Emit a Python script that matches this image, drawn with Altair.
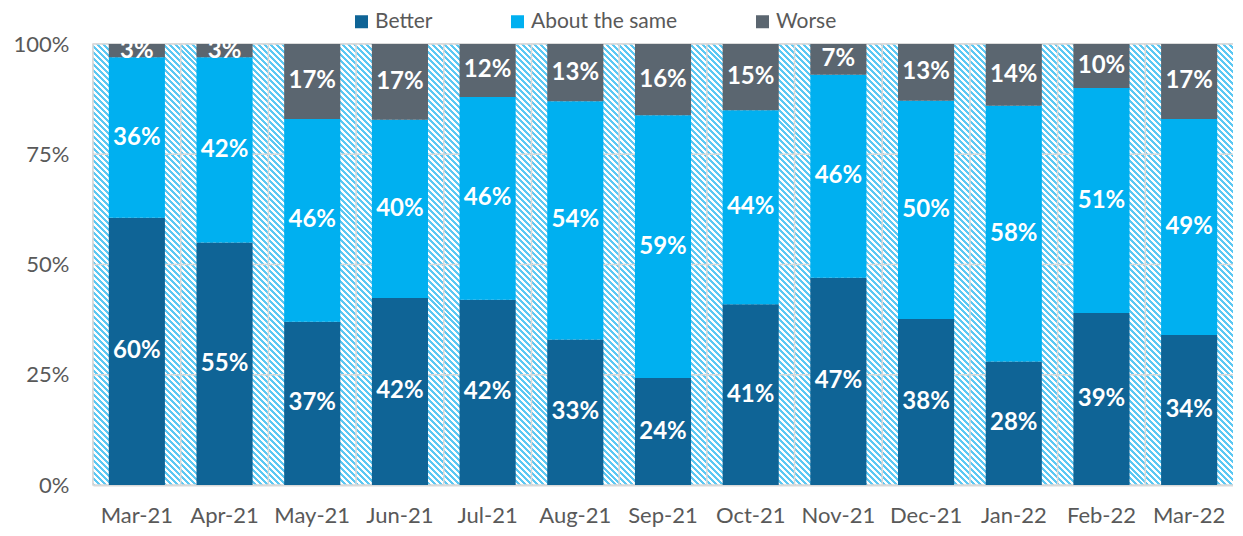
import altair as alt
import pandas as pd

months = ["Mar-21", "Apr-21", "May-21", "Jun-21", "Jul-21", "Aug-21", "Sep-21",
          "Oct-21", "Nov-21", "Dec-21", "Jan-22", "Feb-22", "Mar-22"]
series = ["Better", "About the same", "Worse"]
better = [60, 55, 37, 42, 42, 33, 24, 41, 47, 38, 28, 39, 34]
same = [36, 42, 46, 40, 46, 54, 59, 44, 46, 50, 58, 51, 49]
worse = [3, 3, 17, 17, 12, 13, 16, 15, 7, 13, 14, 10, 17]
y_ticks = [0, 0.25, 0.5, 0.75, 1.0]
colors = ["#0f6496", "#00b0f0", "#5b6670"]

rows = []
for i, m in enumerate(months):
    for k, (s, vals) in enumerate(zip(series, [better, same, worse])):
        rows.append({"month": m, "series": s, "order": k, "value": vals[i]})
df = pd.DataFrame(rows)

W, H = 1140, 441
FONT = "Lato"
GRID = "#d9d9d9"
TXT = "#595959"

# diagonal hatch background (45 deg stripes) as a linear gradient on a plot-size rect
r = H / W
kk = (1 + r) / (1 + r * r)
period = 6.0
N = int(round((W + H) / period))
stripe = "#5cc8f3"
stops = []
for i in range(N):
    a = i / N
    b = (i + 0.5) / N
    c = (i + 1) / N
    stops += [
        {"offset": a, "color": stripe},
        {"offset": b, "color": stripe},
        {"offset": b, "color": "#ffffff"},
        {"offset": c, "color": "#ffffff"},
    ]
hatch = alt.LinearGradient(gradient="linear", x1=0, y1=1, x2=kk, y2=1 - kk * r,
                           stops=[alt.GradientStop(offset=s["offset"], color=s["color"]) for s in stops])

bg = alt.Chart(pd.DataFrame({"k": [0]})).mark_rect(fill=hatch, strokeWidth=0).encode(
    x=alt.value(0), x2=alt.value(W), y=alt.value(0), y2=alt.value(H)
)

hgrid = alt.Chart(pd.DataFrame({"t": y_ticks})).mark_rule(color=GRID, strokeWidth=1.5).encode(
    y=alt.Y("t:Q")
)

vgrid = alt.Chart(pd.DataFrame({"month": months})).mark_rule(color=GRID, strokeWidth=1.5).encode(
    x=alt.X("month:N", sort=months, bandPosition=0)
)

base = alt.Chart(df).transform_stack(
    stack="value", groupby=["month"], sort=[alt.SortField("order", order="ascending")],
    as_=["y0", "y1"], offset="normalize"
).transform_calculate(
    mid="(datum.y0 + datum.y1) / 2",
    label="datum.value + '%'"
)

xenc = alt.X("month:N", sort=months, title=None,
             scale=alt.Scale(paddingInner=0, paddingOuter=0),
             axis=alt.Axis(labelAngle=0, labelAlign="center", labelFont=FONT, labelFontSize=22,
                           labelColor=TXT, labelPadding=30, ticks=False, grid=False,
                           bandPosition=0.5, domainColor=GRID, domainWidth=2))

bars = base.mark_bar(width=alt.RelativeBandSize(0.64)).encode(
    x=xenc,
    y=alt.Y("y0:Q", title=None, scale=alt.Scale(domain=[0, 1], nice=False),
            axis=alt.Axis(values=y_ticks, format=".0%", labelFont=FONT, labelFontSize=22,
                          labelColor=TXT, ticks=False, labelPadding=24, domain=False,
                          grid=False)),
    y2="y1:Q",
    color=alt.Color("series:N", scale=alt.Scale(domain=series, range=colors),
                    legend=alt.Legend(orient="none", legendX=258, legendY=-33, direction="horizontal",
                                      title=None, symbolType="square", symbolSize=169,
                                      symbolStrokeWidth=0, labelFont=FONT, labelFontSize=21,
                                      labelColor=TXT, labelOffset=3, labelLimit=400,
                                      columnPadding=74, padding=0)),
    order=alt.Order("order:Q"),
)

labels = base.mark_text(font=FONT, fontSize=24, fontWeight="bold", color="white").encode(
    x=alt.X("month:N", sort=months),
    y=alt.Y("mid:Q"),
    text="label:N",
)

chart = alt.layer(bg, hgrid, vgrid, bars, labels).properties(
    width=W, height=H,
    autosize=alt.AutoSizeParams(type="none"),
    padding={"left": 85, "top": 36, "right": 0, "bottom": 43},
).configure_view(stroke=GRID, strokeWidth=1.5)

chart.save("out.html", embed_options={"renderer": "svg", "actions": False})
